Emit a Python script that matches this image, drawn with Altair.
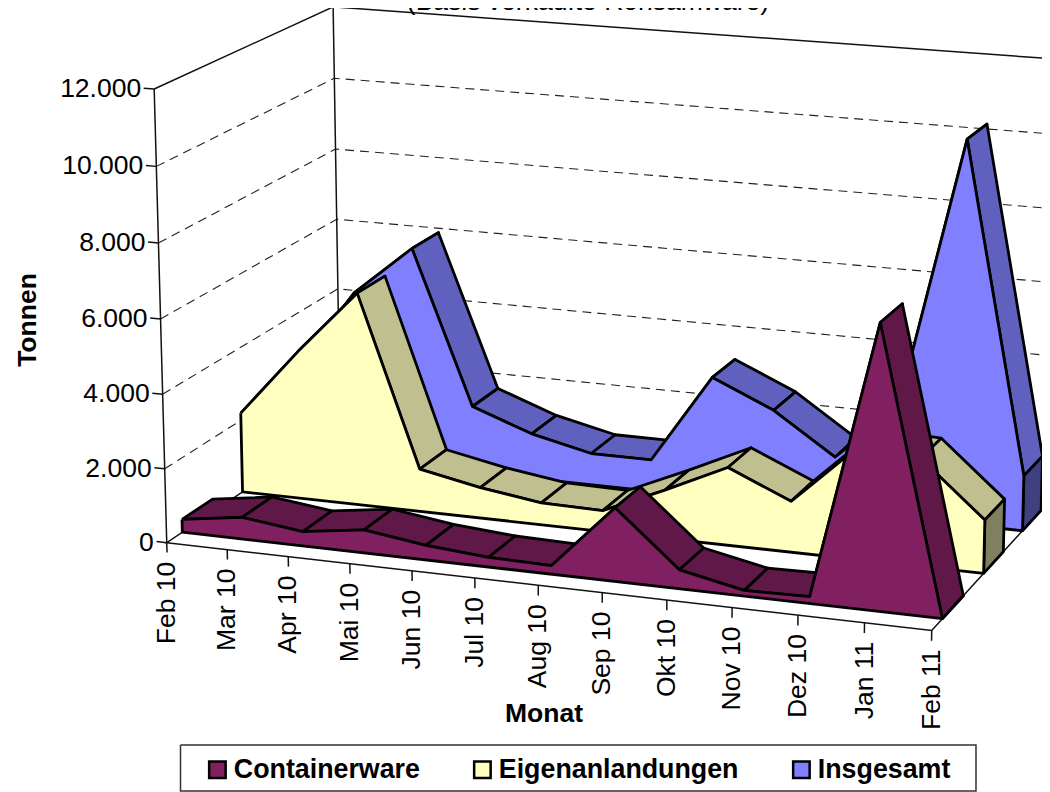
import altair as alt
import numpy as np
import pandas as pd

months = ["Feb 10","Mar 10","Apr 10","Mai 10","Jun 10","Jul 10","Aug 10","Sep 10","Okt 10","Nov 10","Dez 10","Jan 11","Feb 11"]
containerware = [350,590,390,620,390,260,230,1950,500,150,180,7400,0]
eigen = [2200,4080,5820,1170,840,600,570,1310,2100,1370,2950,2880,1420]
insgesamt = [2500,4740,6130,1860,1260,880,880,3340,2600,1480,3050,10350,1500]
y_ticks = [0,2000,4000,6000,8000,10000,12000]
y_labels = ["0","2.000","4.000","6.000","8.000","10.000","12.000"]
series = ["Containerware","Eigenanlandungen","Insgesamt"]
front_col = ["#802060","#FFFFC0","#8080FF"]
top_col = ["#601848","#BFBF90","#6060BF"]
side_col = ["#401030","#808060","#404080"]
depths = [(1/12,3/12),(5/12,7/12),(9/12,11/12)]
YMAX = 12000

# camera calibration: (month position, value share, depth) -> page pixel
calib = [
 (0,0,0,166,543),(0,1,0,154,89),(0,0,1,340,428),(0,1,1,333,7),(1,0,0,932,632),
 (1,0,1,1052,498),(1,1,1,1062,60),(0,.5,0,161,318),(0,.5,1,336.5,219),
 (1,0,1/12,943,618),(1,0,3/12,963,595),(1,0,5/12,983,573),(1,0,7/12,1002,555),
 (1,0,9/12,1023,530),(1,0,11/12,1040,510),(0,0,1/12,183,532),(0,0,5/12,243,491),
]
A = []
for X,Y,Z,u,v in calib:
    u,v = u/1000,v/1000
    A.append([X,Y,Z,1,0,0,0,0,-u*X,-u*Y,-u*Z,-u])
    A.append([0,0,0,0,X,Y,Z,1,-v*X,-v*Y,-v*Z,-v])
P = np.linalg.svd(np.array(A))[2][-1].reshape(3,4)

def proj(i, val, z):
    h = P @ np.array([i/12, val/YMAX, z, 1.0])
    return 1000*h[0]/h[2], 1000*h[1]/h[2]

PW, PH = 1034, 784
xs = alt.X("px:Q", scale=alt.Scale(domain=[8,8+PW], range=[0,PW], nice=False, zero=False), axis=None)
ys = alt.Y("py:Q", scale=alt.Scale(domain=[8,8+PH], range=[0,PH], nice=False, zero=False), axis=None)

def polys(items):
    rows = []
    for k, pts in enumerate(items):
        for j, (x, y) in enumerate(list(pts)+[pts[0]]):
            rows.append({"poly":k,"i":j,"px":x,"py":y})
    return pd.DataFrame(rows)

def layer(items, fill, sw=2.8):
    return alt.Chart(polys(items)).mark_line(fill=fill, stroke="black", strokeWidth=sw, strokeJoin="round", clip=True).encode(
        x=xs, y=ys, detail="poly:N", order="i:Q")

def lines(items, sw=1.5, dash=None, color="#111111"):
    rows = []
    for k, pts in enumerate(items):
        for j, (x, y) in enumerate(pts):
            rows.append({"poly":k,"i":j,"px":x,"py":y})
    kw = {"strokeDash":dash} if dash else {}
    return alt.Chart(pd.DataFrame(rows)).mark_line(stroke=color, strokeWidth=sw, clip=True, **kw).encode(
        x=xs, y=ys, detail="poly:N", order="i:Q")

grid = [[proj(0,v,0),proj(0,v,1),proj(12,v,1)] for v in y_ticks[1:-1]]
frame = [[proj(0,0,0),proj(0,YMAX,0)],
         [proj(0,YMAX,0),proj(0,YMAX,1),proj(12,YMAX,1)],
         [proj(0,0,1),proj(0,YMAX,1)],
         [proj(0,0,1),proj(0,0,0),proj(12,0,0),proj(12,0,1),proj(0,0,1)]]
yticks = [[proj(-.17,v,0),proj(0,v,0)] for v in y_ticks]
xticks = [[proj(i,0,0),proj(i,-270,0)] for i in range(13)]
legend_box = [[(180.5,745),(976,745),(976,791),(180.5,791),(180.5,745)]]

layers = [lines(grid, sw=1.1, dash=[9,6], color="#222222"), lines(frame), lines(yticks), lines(xticks),
          lines(legend_box, sw=1.5, color="#333333")]

vals = [containerware, eigen, insgesamt]
for s in [2,1,0]:
    zf, zb = depths[s]
    v = vals[s]
    bands = [[proj(i,v[i],zf),proj(i,v[i],zb),proj(i+1,v[i+1],zb),proj(i+1,v[i+1],zf)] for i in range(12)]
    side = [[proj(12,0,zf),proj(12,v[12],zf),proj(12,v[12],zb),proj(12,0,zb)]]
    face = [[proj(i,v[i],zf) for i in range(13)] + [proj(12,0,zf),proj(0,0,zf)]]
    layers += [layer(bands, top_col[s]), layer(side, side_col[s]), layer(face, front_col[s])]

font = "Liberation Sans"
FS = 26.5
ylab = pd.DataFrame([{"px":proj(0,v,0)[0],"py":proj(0,v,0)[1],"t":t} for v,t in zip(y_ticks,y_labels)])
xlab = pd.DataFrame([{"px":proj(i,0,0)[0],"py":proj(i,0,0)[1],"t":m} for i,m in enumerate(months)])
layers.append(alt.Chart(ylab).mark_text(align="right",baseline="middle",dx=-13,font=font,fontSize=FS,color="black").encode(x=xs,y=ys,text="t:N"))
layers.append(alt.Chart(xlab).mark_text(align="right",baseline="middle",angle=270,dx=-19,font=font,fontSize=FS,color="black").encode(x=xs,y=ys,text="t:N"))
titles = pd.DataFrame([
  {"px":28,"py":320,"t":"Tonnen","a":270},
  {"px":544,"py":714,"t":"Monat","a":0},
])
for _,r in titles.iterrows():
    layers.append(alt.Chart(pd.DataFrame([r[["px","py","t"]].to_dict()])).mark_text(
        align="center",baseline="middle",angle=int(r["a"]),font=font,fontSize=FS,fontWeight="bold",color="black").encode(x=xs,y=ys,text="t:N"))
layers.append(alt.Chart(pd.DataFrame([{"px":588,"py":2,"t":"(Basis verkaufte Rohsamware)"}])).mark_text(
    align="center",baseline="middle",font=font,fontSize=FS,color="black").encode(x=xs,y=ys,text="t:N"))

# legend carrier: marks sit outside the clipped plot, only the legend shows
leg = pd.DataFrame({"px":[-100]*3,"py":[-100]*3,"s":series})
layers.append(alt.Chart(leg).mark_point(shape="square",filled=True,stroke="black",strokeWidth=2.5,clip=True,size=100,opacity=1).encode(
    x=xs,y=ys,
    fill=alt.Fill("s:N",scale=alt.Scale(domain=series,range=front_col),
      legend=alt.Legend(title=None,orient="none",legendX=196,legendY=748,direction="horizontal",columns=3,gridAlign="each",
        padding=0,symbolType="square",symbolSize=272,symbolStrokeColor="black",symbolStrokeWidth=2.5,
        labelFont=font,labelFontSize=26.8,labelFontWeight="bold",labelColor="black",labelOffset=3,columnPadding=49,labelLimit=500,
        offset=0))))

chart = alt.layer(*layers).properties(width=PW,height=PH,padding=0,autosize=alt.AutoSizeParams(type="none"),background="white"
    ).configure_view(stroke=None)
chart.save("out.html", embed_options={"renderer": "svg", "actions": False})
